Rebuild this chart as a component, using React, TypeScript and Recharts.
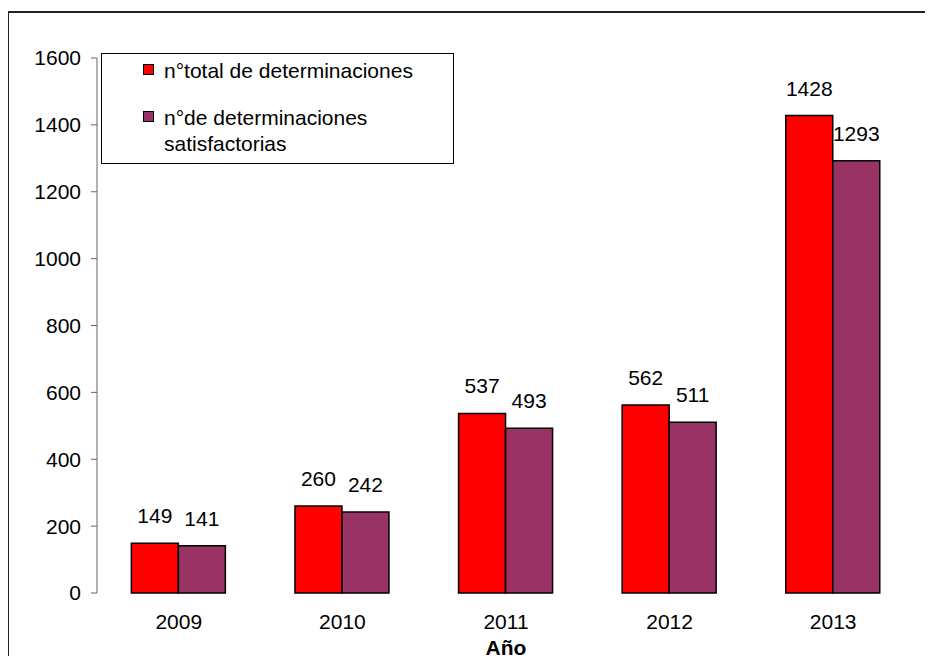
import { BarChart, Bar, XAxis, YAxis, LabelList } from 'recharts';

const years = ['2009', '2010', '2011', '2012', '2013'];
const totalDeterminations = [149, 260, 537, 562, 1428];
const satisfactoryDeterminations = [141, 242, 493, 511, 1293];
const yTicks = [0, 200, 400, 600, 800, 1000, 1200, 1400, 1600];
const boundaryTicks = [0, 1, 2, 3, 4, 5];

const seriesNames = ['n°total de determinaciones', 'n°de determinaciones satisfactorias'];
const RED = '#FF0000';
const PURPLE = '#993366';
const FONT = '"Liberation Sans", Arial, sans-serif';
const FS = 21;

const data = years.map((y, i) => ({
  year: y,
  total: totalDeterminations[i],
  satisf: satisfactoryDeterminations[i],
}));

function LegendBox() {
  const items = [
    { color: RED, lines: ['n°total de determinaciones'], top: 4 },
    { color: PURPLE, lines: ['n°de determinaciones', 'satisfactorias'], top: 51 },
  ];
  return (
    <div
      style={{
        position: 'absolute',
        left: 101,
        top: 53,
        width: 351,
        height: 109,
        border: '1px solid #000',
        background: '#fff',
        fontFamily: FONT,
        fontSize: FS,
        color: '#000',
      }}
    >
      {items.map((it, i) => (
        <div key={i} style={{ position: 'absolute', left: 41, top: it.top, lineHeight: '26px' }}>
          <span
            style={{
              position: 'absolute',
              left: 0,
              top: 6,
              width: 9,
              height: 9,
              background: it.color,
              border: '1px solid #000',
            }}
          />
          <div style={{ marginLeft: 21, whiteSpace: 'nowrap' }}>
            {it.lines.map((l, j) => (
              <div key={j}>{l}</div>
            ))}
          </div>
        </div>
      ))}
    </div>
  );
}

export default function App() {
  return (
    <div
      style={{
        position: 'relative',
        width: 933,
        height: 664,
        margin: -8,
        overflow: 'hidden',
        background: '#fff',
      }}
    >
      <div
        style={{
          position: 'absolute',
          left: 7,
          top: 11,
          width: 960,
          height: 700,
          borderTop: '2px solid #222',
          borderLeft: '2px solid #222',
        }}
      />
      <div style={{ position: 'absolute', left: 0, top: 0 }}>
        <BarChart
          width={933}
          height={664}
          data={data}
          margin={{ top: 58, right: 18, left: 37, bottom: 41 }}
          barCategoryGap="21%"
          barGap={0}
          style={{ fontFamily: FONT }}
        >
          <XAxis
            xAxisId="num"
            type="number"
            domain={[0, 5]}
            ticks={boundaryTicks}
            allowDataOverflow
            height={0}
            tickSize={6}
            tickFormatter={() => ''}
            stroke="#333"
            axisLine={{ stroke: '#333' }}
            tickLine={{ stroke: '#333' }}
          />
          <XAxis
            xAxisId="cat"
            dataKey="year"
            height={30}
            axisLine={false}
            tickLine={false}
            tickSize={6}
            tickMargin={15}
            tick={{ fill: '#000', fontSize: FS }}
            label={{
              value: 'Año',
              position: 'bottom',
              offset: 17,
              fill: '#000',
              fontSize: FS,
              fontWeight: 'bold',
            }}
          />
          <YAxis
            width={60}
            domain={[0, 1600]}
            ticks={yTicks}
            tickSize={6}
            tickMargin={10}
            stroke="#666"
            tick={{ fill: '#000', fontSize: FS }}
          />
          <Bar
            xAxisId="cat"
            dataKey="total"
            name={seriesNames[0]}
            fill={RED}
            stroke="#000"
            strokeWidth={1.5}
            isAnimationActive={false}
          >
            <LabelList dataKey="total" position="top" offset={20} fill="#000" fontSize={FS} />
          </Bar>
          <Bar
            xAxisId="cat"
            dataKey="satisf"
            name={seriesNames[1]}
            fill={PURPLE}
            stroke="#000"
            strokeWidth={1.5}
            isAnimationActive={false}
          >
            <LabelList dataKey="satisf" position="top" offset={20} fill="#000" fontSize={FS} />
          </Bar>
        </BarChart>
      </div>
      <LegendBox />
    </div>
  );
}
